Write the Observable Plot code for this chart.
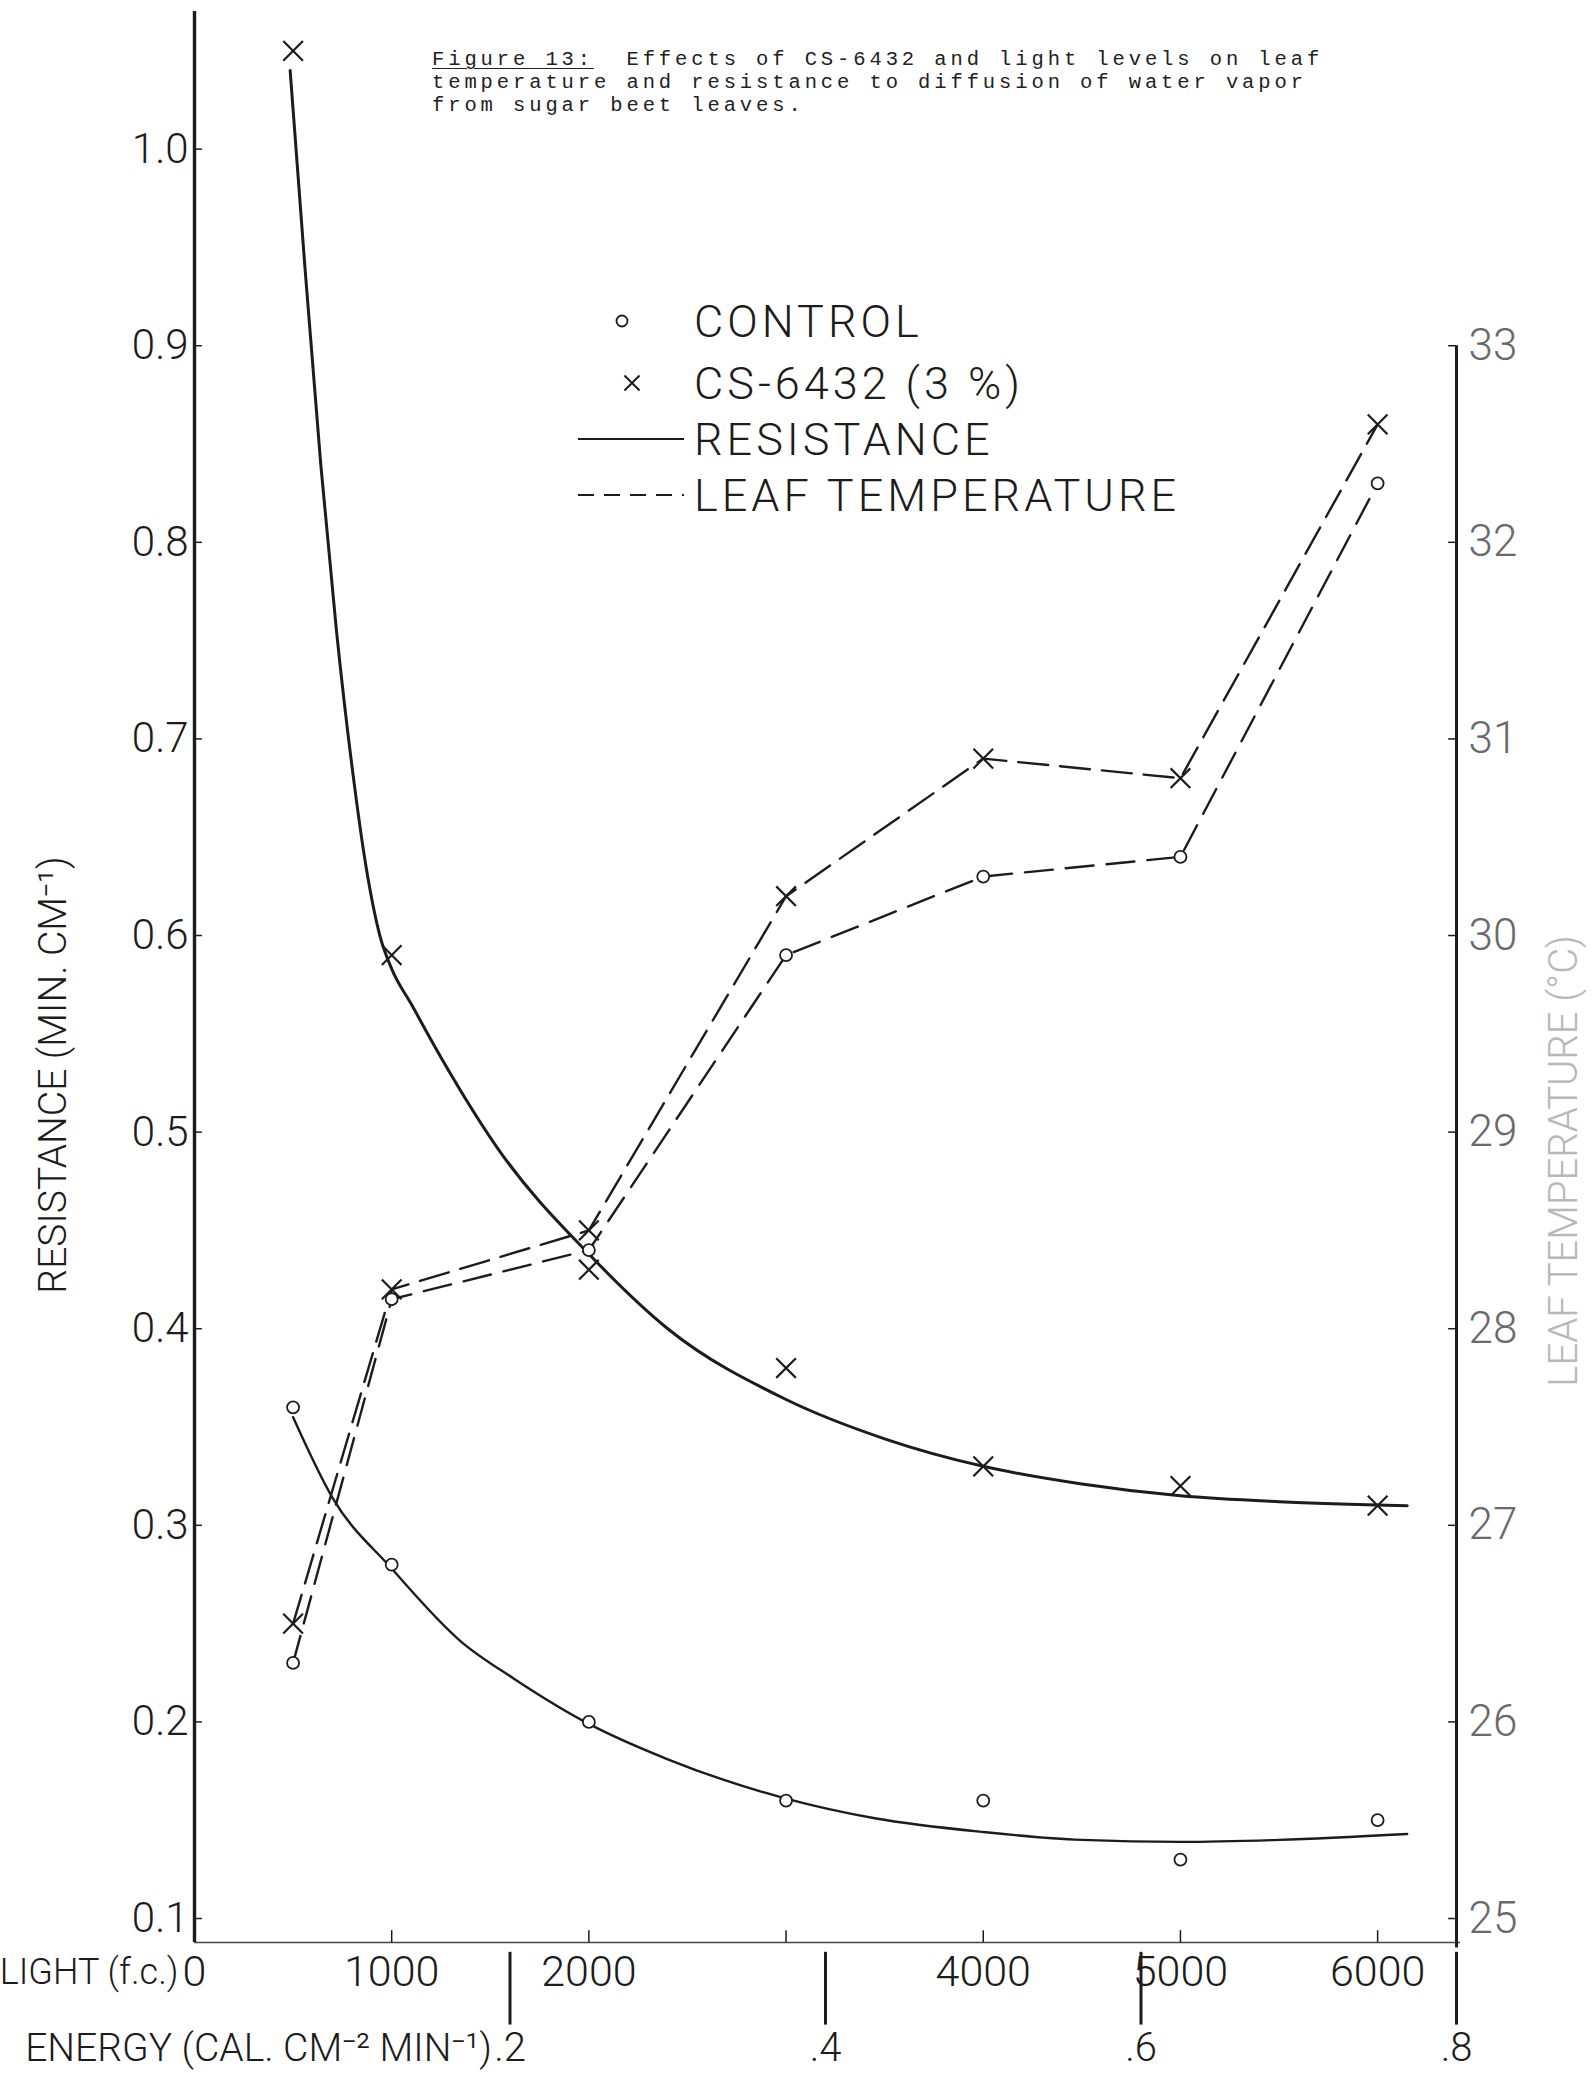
<!DOCTYPE html>
<html>
<head>
<meta charset="utf-8">
<script src="https://cdn.jsdelivr.net/npm/d3@7"></script>
<script src="https://cdn.jsdelivr.net/npm/@observablehq/plot@0.6"></script>
<style>
  html, body { margin: 0; padding: 0; background: #fff; }
  #wrap { position: relative; width: 1595px; height: 2073px; overflow: hidden; background: #fff; }
  #chart { position: absolute; left: 0; top: 0; }
  #title { position: absolute; left: 432px; top: 48px; font-family: "Liberation Mono", "DejaVu Sans Mono", monospace;
           font-size: 20.5px; letter-spacing: 3.9px; line-height: 23px; color: #222; white-space: pre; }
  #title div { height: 23px; }
  #title u { text-decoration-thickness: 1px; text-underline-offset: 3px; }
  #legend { position: absolute; left: 0; top: 0; pointer-events: none; }
</style>
</head>
<body>
<div id="wrap">
  <div id="chart"></div>
  <div id="title"></div>
  <svg id="legend" width="1595" height="2073"></svg>
</div>
<script>
// ---------------- data ----------------
const lightFc      = [500, 1000, 2000, 3000, 4000, 5000, 6000];          // light (foot-candles)
const resControl   = [0.36, 0.28, 0.20, 0.16, 0.16, 0.13, 0.15];         // resistance, control (min cm^-1)
const resCS        = [1.05, 0.59, 0.43, 0.38, 0.33, 0.32, 0.31];         // resistance, CS-6432 (3%)
const tempControl  = [26.3, 28.15, 28.4, 29.9, 30.3, 30.4, 32.3];        // leaf temperature, control (°C)
const tempCS       = [26.5, 28.2, 28.5, 30.2, 30.9, 30.8, 32.6];         // leaf temperature, CS-6432 (°C)

// hand-drawn smooth resistance curves
const fitLightCS   = [485, 560, 640, 720, 800, 870, 940, 1000, 1100, 1250, 1550, 2000, 2400, 3000, 3500, 4000, 4500, 5000, 5500, 6150];
const fitResCS     = [1.04, 0.94, 0.84, 0.755, 0.685, 0.635, 0.60, 0.583, 0.565, 0.538, 0.49, 0.438, 0.40, 0.364, 0.344, 0.330, 0.321, 0.315, 0.312, 0.310];
const fitLightCtl  = [500, 700, 1000, 1350, 1620, 2000, 2400, 3000, 3450, 4000, 4500, 5000, 5500, 6150];
const fitResCtl    = [0.355, 0.314, 0.278, 0.241, 0.222, 0.199, 0.181, 0.161, 0.151, 0.144, 0.140, 0.139, 0.140, 0.143];

// axes
const resTicks     = [0.1, 0.2, 0.3, 0.4, 0.5, 0.6, 0.7, 0.8, 0.9, 1.0];
const tempTicks    = [25, 26, 27, 28, 29, 30, 31, 32, 33];
const lightTicks   = [0, 1000, 2000, 3000, 4000, 5000, 6000];
const lightLabels  = [0, 1000, 2000, 4000, 5000, 6000];
const energyTicks  = [0.2, 0.4, 0.6, 0.8];
const lightPerEnergy = 8000;   // f.c. per cal cm^-2 min^-1 (scale relation in the figure)

const titleLines = [
  "Figure 13:  Effects of CS-6432 and light levels on leaf",
  "temperature and resistance to diffusion of water vapor",
  "from sugar beet leaves."
];
const legendItems = ["CONTROL", "CS-6432 (3 %)", "RESISTANCE", "LEAF TEMPERATURE"];

// ---------------- layout ----------------
const W = 1595, H = 2073;
const yBottom = 0.0878, yTop = 1.07;   // extent of the drawn left axis
const xRight = 6400;                   // right (temperature) axis sits at energy .8
const tempToRes = t => 0.1 + (t - 25) / 10;   // right axis: 25..33 °C aligned with 0.1..0.9
const FONT = "Roboto, 'Liberation Sans', sans-serif";
const INK = "#1c1c1c";

const pts = lightFc.map((x, i) => ({x, resC: resControl[i], resS: resCS[i], tC: tempControl[i], tS: tempCS[i]}));
const fitCS = fitLightCS.map((x, i) => ({x, y: fitResCS[i]}));
const fitCtl = fitLightCtl.map((x, i) => ({x, y: fitResCtl[i]}));

const txt = {fontFamily: FONT, fontWeight: 300, fill: INK};

const chart = Plot.plot({
  width: W, height: H,
  marginLeft: 194, marginRight: W - 1456, marginTop: 11, marginBottom: H - 1942,
  x: {domain: [0, xRight], axis: null},
  y: {domain: [yBottom, yTop], axis: null},
  style: {background: "transparent", overflow: "hidden"},
  marks: [
    // axis lines
    Plot.ruleX([0], {y1: yBottom, y2: yTop, stroke: INK, strokeWidth: 3.4}),
    Plot.ruleY([yBottom], {x1: 0, x2: xRight + 20, stroke: "#444", strokeWidth: 1.6}),
    Plot.ruleX([xRight], {y1: tempToRes(24.85), y2: tempToRes(33), stroke: INK, strokeWidth: 3}),
    // tick marks
    Plot.ruleY(resTicks, {x1: 0, x2: 40, stroke: INK, strokeWidth: 1.5}),
    Plot.ruleY(tempTicks, {y: d => tempToRes(d), x1: xRight - 40, x2: xRight, stroke: INK, strokeWidth: 1.5}),
    Plot.ruleX(lightTicks, {y1: yBottom, y2: yBottom + 0.006, stroke: INK, strokeWidth: 1.5}),
    Plot.ruleX(energyTicks, {x: d => d * lightPerEnergy, y1: yBottom - 0.005, y2: yBottom - 0.042, stroke: INK, strokeWidth: 3}),
    // tick labels
    Plot.text(resTicks, {x: 0, y: d => d, text: d => d.toFixed(1), textAnchor: "end", dx: -6, fontSize: 42, ...txt}),
    Plot.text(tempTicks, {x: xRight, y: d => tempToRes(d), text: d => String(d), textAnchor: "start", dx: 12, fontSize: 44, ...txt, fill: "#6a6a6a"}),
    Plot.text(lightLabels, {x: d => d, y: yBottom, dy: 30, text: d => String(d), fontSize: 43, ...txt}),
    Plot.text(["LIGHT (f.c.)"], {x: 0, y: yBottom, dy: 30, dx: -16, textAnchor: "end", fontSize: 36, ...txt}),
    Plot.text(energyTicks, {x: d => d * lightPerEnergy, y: yBottom, dy: 106, text: d => "." + Math.round(d * 10), fontSize: 40, ...txt}),
    Plot.text(["ENERGY (CAL. CM⁻² MIN⁻¹)"], {x: energyTicks[0] * lightPerEnergy, y: yBottom, dy: 106, dx: -18, textAnchor: "end", fontSize: 39, ...txt}),
    // axis titles
    Plot.text(["RESISTANCE (MIN. CM⁻¹)"], {frameAnchor: "left", textAnchor: "middle", rotate: -90, dx: -141, dy: 98, fontSize: 39, ...txt}),
    Plot.text(["LEAF TEMPERATURE (°C)"], {frameAnchor: "right", textAnchor: "middle", rotate: -90, dx: 108, dy: 184, fontSize: 40, ...txt, fill: "#b8b8b8"}),
    // resistance curves (solid)
    Plot.line(fitCtl, {x: "x", y: "y", curve: "monotone-x", stroke: INK, strokeWidth: 2.4}),
    Plot.line(fitCS, {x: "x", y: "y", curve: "monotone-x", stroke: INK, strokeWidth: 3}),
    // leaf temperature (dashed)
    Plot.line(pts, {x: "x", y: d => tempToRes(d.tC), stroke: INK, strokeWidth: 2.4, strokeDasharray: "28,13"}),
    Plot.line(pts, {x: "x", y: d => tempToRes(d.tS), stroke: INK, strokeWidth: 2.4, strokeDasharray: "30,12"}),
    // markers
    Plot.dot(pts, {x: "x", y: "resC", r: 6, stroke: INK, fill: "white", strokeWidth: 1.8}),
    Plot.dot(pts, {x: "x", y: d => tempToRes(d.tC), r: 6, stroke: INK, fill: "white", strokeWidth: 1.8}),
    Plot.dot(pts, {x: "x", y: "resS", symbol: "times", r: 9, stroke: INK, strokeWidth: 2.2}),
    Plot.dot(pts, {x: "x", y: d => tempToRes(d.tS), symbol: "times", r: 9, stroke: INK, strokeWidth: 2.2})
  ]
});
document.getElementById("chart").appendChild(chart);

// ---------------- title ----------------
const t = d3.select("#title");
t.append("div").html("<u>Figure 13:</u>" + titleLines[0].slice("Figure 13:".length));
t.append("div").text(titleLines[1]);
t.append("div").text(titleLines[2]);

// ---------------- legend ----------------
const lg = d3.select("#legend");
const LX = 694, rows = [321, 383, 439, 495];
lg.append("circle").attr("cx", 622).attr("cy", rows[0]).attr("r", 5.5).attr("fill", "none").attr("stroke", INK).attr("stroke-width", 1.8);
lg.append("path").attr("d", d3.symbol(d3.symbolTimes, 150)()).attr("transform", `translate(632,${rows[1]})`).attr("stroke", INK).attr("stroke-width", 2);
lg.append("line").attr("x1", 578).attr("x2", 684).attr("y1", rows[2]).attr("y2", rows[2]).attr("stroke", INK).attr("stroke-width", 2);
lg.append("line").attr("x1", 578).attr("x2", 684).attr("y1", rows[3]).attr("y2", rows[3]).attr("stroke", INK).attr("stroke-width", 2).attr("stroke-dasharray", "16,10");
legendItems.forEach((s, i) => {
  lg.append("text").attr("x", LX).attr("y", rows[i]).attr("dy", "0.36em").text(s)
    .attr("font-family", FONT).attr("font-weight", 300).attr("font-size", 45)
    .attr("letter-spacing", 4).attr("fill", INK);
});
</script>
</body>
</html>
